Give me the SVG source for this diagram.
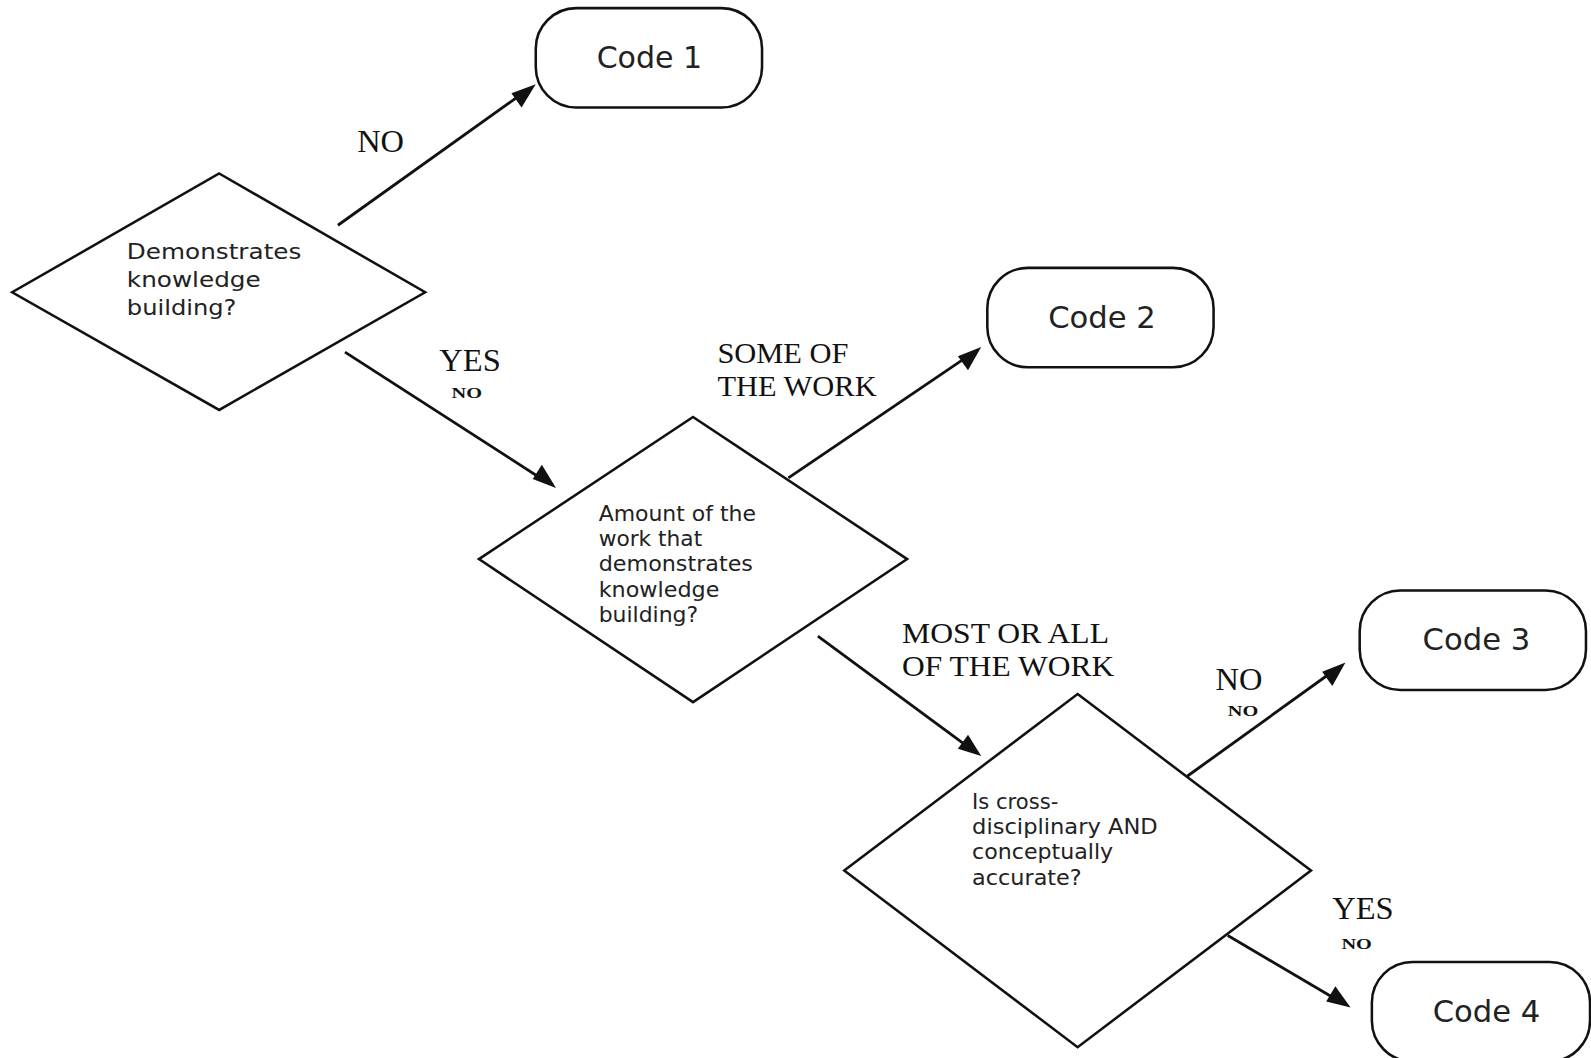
<svg xmlns="http://www.w3.org/2000/svg" width="1591" height="1058" viewBox="0 0 1591 1058">
<style>
.shape{fill:#fff;stroke:#111;stroke-width:2.5}
.edge{fill:none;stroke:#111;stroke-width:2.8}
.head{fill:#111}
.q{font-family:"DejaVu Sans",Verdana,sans-serif;font-size:21px;fill:#222}
.code{font-family:"DejaVu Sans",Verdana,sans-serif;font-size:29px;fill:#222;text-anchor:middle}
.lbl{font-family:"Liberation Serif","Times New Roman",serif;font-size:30px;fill:#111}
.big{font-size:32px}
.sm{font-family:"Liberation Serif","Times New Roman",serif;font-size:15px;font-weight:bold;fill:#111}
</style>
<rect width="1591" height="1058" fill="#fff"/>
<g transform="scale(1.0147)">
<g id="connectors">
<line class="edge" x1="333" y1="222" x2="515" y2="92"/>
<path class="head" d="M528,83 L504,92 L514,106 z"/>
<line class="edge" x1="340" y1="347" x2="534" y2="472"/>
<path class="head" d="M548,481 L525,472 L534,458 z"/>
<line class="edge" x1="777" y1="471" x2="954" y2="351"/>
<path class="head" d="M967,342 L944,351 L954,365 z"/>
<line class="edge" x1="806" y1="627" x2="954" y2="736"/>
<path class="head" d="M967,745 L944,738 L954,724 z"/>
<line class="edge" x1="1170" y1="765" x2="1313" y2="662"/>
<path class="head" d="M1326,653 L1303,662 L1313,676 z"/>
<line class="edge" x1="1210" y1="922" x2="1317" y2="985"/>
<path class="head" d="M1331,993 L1307,987 L1316,972 z"/>
</g>
<g id="labels">
<text class="lbl big" x="352" y="150">NO</text>
<text class="lbl big" x="433" y="366">YES</text>
<text class="sm" x="445" y="392" textLength="30" lengthAdjust="spacingAndGlyphs">NO</text>
<text class="lbl" x="707" y="358">SOME OF</text>
<text class="lbl" x="707" y="390">THE WORK</text>
<text class="lbl" x="889" y="634" textLength="204" lengthAdjust="spacingAndGlyphs">MOST OR ALL</text>
<text class="lbl" x="889" y="666" textLength="209" lengthAdjust="spacingAndGlyphs">OF THE WORK</text>
<text class="lbl big" x="1198" y="680">NO</text>
<text class="sm" x="1210" y="706" textLength="30" lengthAdjust="spacingAndGlyphs">NO</text>
<text class="lbl big" x="1313" y="906">YES</text>
<text class="sm" x="1322" y="935" textLength="30" lengthAdjust="spacingAndGlyphs">NO</text>
</g>
<g id="d1">
<polygon class="shape" points="216,171 419,288 216,404 12,288"/>
<text class="q" font-size="24.5" x="125" y="255" textLength="172" lengthAdjust="spacingAndGlyphs">Demonstrates</text>
<text class="q" font-size="24.5" x="125" y="283" textLength="132" lengthAdjust="spacingAndGlyphs">knowledge</text>
<text class="q" font-size="24.5" x="125" y="310" textLength="108" lengthAdjust="spacingAndGlyphs">building?</text>
</g>
<g id="code1">
<rect class="shape" x="528" y="8" width="223" height="98" rx="40" ry="40"/>
<text class="code" x="640" y="67" textLength="104" lengthAdjust="spacingAndGlyphs">Code 1</text>
</g>
<g id="d2">
<polygon class="shape" points="683,411 894,551 683,692 472,551"/>
<text class="q" x="590" y="513" textLength="155" lengthAdjust="spacingAndGlyphs">Amount of the</text>
<text class="q" x="590" y="538" textLength="102" lengthAdjust="spacingAndGlyphs">work that</text>
<text class="q" x="590" y="563" textLength="152" lengthAdjust="spacingAndGlyphs">demonstrates</text>
<text class="q" x="590" y="588" textLength="119" lengthAdjust="spacingAndGlyphs">knowledge</text>
<text class="q" x="590" y="613" textLength="98" lengthAdjust="spacingAndGlyphs">building?</text>
</g>
<g id="code2">
<rect class="shape" x="973" y="264" width="223" height="98" rx="40" ry="40"/>
<text class="code" x="1086" y="323" textLength="106" lengthAdjust="spacingAndGlyphs">Code 2</text>
</g>
<g id="d3">
<polygon class="shape" points="1062,684 1292,858 1062,1032 832,858"/>
<text class="q" font-size="21.5" x="958" y="797" textLength="85" lengthAdjust="spacingAndGlyphs">Is cross-</text>
<text class="q" font-size="21.5" x="958" y="822" textLength="183" lengthAdjust="spacingAndGlyphs">disciplinary AND</text>
<text class="q" font-size="21.5" x="958" y="847" textLength="139" lengthAdjust="spacingAndGlyphs">conceptually</text>
<text class="q" font-size="21.5" x="958" y="872" textLength="108" lengthAdjust="spacingAndGlyphs">accurate?</text>
</g>
<g id="code3">
<rect class="shape" x="1340" y="582" width="223" height="98" rx="40" ry="40"/>
<text class="code" x="1455" y="641" textLength="106" lengthAdjust="spacingAndGlyphs">Code 3</text>
</g>
<g id="code4">
<rect class="shape" x="1352" y="948" width="215" height="98" rx="40" ry="40"/>
<text class="code" x="1465" y="1007" textLength="106" lengthAdjust="spacingAndGlyphs">Code 4</text>
</g>
</g>
</svg>
